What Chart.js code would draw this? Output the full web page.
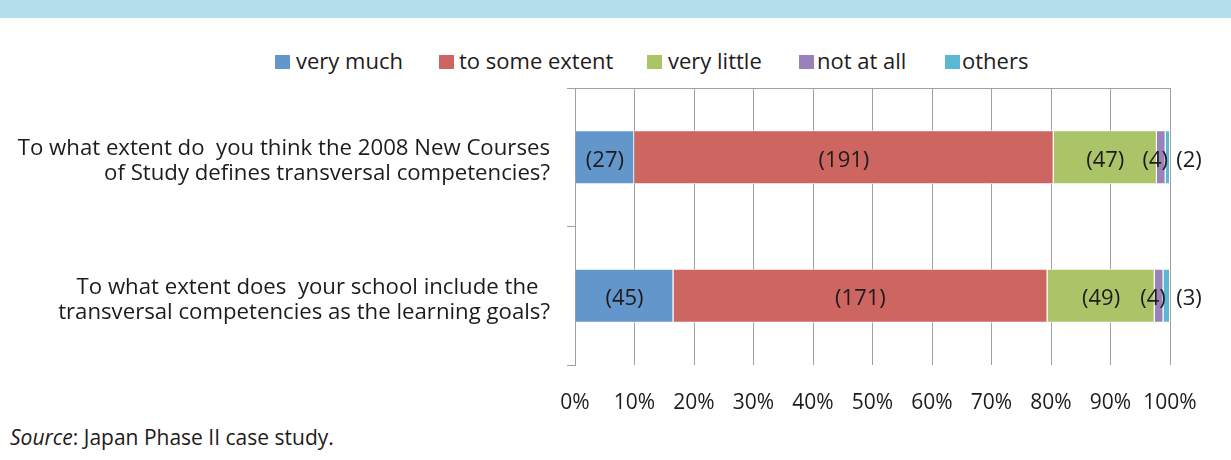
<!DOCTYPE html>
<html>
<head>
<meta charset="utf-8">
<script src="https://cdn.jsdelivr.net/npm/chart.js@4"></script>
<style>
  body { margin: 0; width: 1231px; height: 460px; overflow: hidden; position: relative; background: #fff;
         font-family: 'Open Sans', sans-serif; color: #1e1b1c; }
  #band { position: absolute; left: 0; top: 0; width: 1231px; height: 18px; background: #b3dfec; }
  #chartBox { position: absolute; left: 0; top: 0; }
  #legend { position: absolute; left: 0; top: 47px; width: 1231px; height: 30px; }
  .lg-box { position: absolute; top: 8px; width: 15px; height: 14px; }
  .lg-text { position: absolute; top: -1px; font-size: 22px; line-height: 28px; white-space: nowrap; }
  #source { position: absolute; left: 10px; top: 423px; font-size: 21px; line-height: 28px; }
</style>
</head>
<body>
<div id="band"></div>
<div id="legend"></div>
<div id="chartBox"><canvas id="chart" width="1231" height="420"></canvas></div>
<div id="source"><i>Source</i>: Japan Phase II case study.</div>
<script>
// questions (y categories)
const categories = [
  ['To what extent do  you think the 2008 New Courses', 'of Study defines transversal competencies?'],
  ['To what extent does  your school include the  ', 'transversal competencies as the learning goals?']
];
const seriesNames = ['very much', 'to some extent', 'very little', 'not at all', 'others'];

// number of respondents per answer
const veryMuch     = [27, 45];
const toSomeExtent = [191, 171];
const veryLittle   = [47, 49];
const notAtAll     = [4, 4];
const others       = [2, 3];

const xTickValues = [0, 10, 20, 30, 40, 50, 60, 70, 80, 90, 100];

const counts = [veryMuch, toSomeExtent, veryLittle, notAtAll, others];
const colors = ['#6397cb', '#cd6560', '#abc468', '#9a82b8', '#5bb8d2'];

// legend placement (px)
const legendBoxX = [275, 439, 647, 799, 945];
const legendTextX = [296, 459, 668, 817, 962];
// label nudges per series
const labelShift = [0, 0, 0, -6, 0];

const totals = categories.map((_, j) => counts.reduce((s, arr) => s + arr[j], 0));
const FONT = "'Open Sans', sans-serif";
const TXT = '#1e1b1c';
const GRID = '#a0a0a0';

// html legend
const legendEl = document.getElementById('legend');
seriesNames.forEach((name, i) => {
  const b = document.createElement('div');
  b.className = 'lg-box';
  b.style.left = legendBoxX[i] + 'px';
  b.style.background = colors[i];
  legendEl.appendChild(b);
  const t = document.createElement('div');
  t.className = 'lg-text';
  t.style.left = legendTextX[i] + 'px';
  t.textContent = name;
  legendEl.appendChild(t);
});

const countLabels = {
  id: 'countLabels',
  afterDatasetsDraw(chart) {
    const ctx = chart.ctx;
    ctx.save();
    ctx.font = '22px ' + FONT;
    ctx.fillStyle = TXT;
    ctx.textAlign = 'center';
    ctx.textBaseline = 'middle';
    chart.data.datasets.forEach((ds, i) => {
      chart.getDatasetMeta(i).data.forEach((bar, j) => {
        let x = (bar.x + bar.base) / 2 + labelShift[i];
        if (i === counts.length - 1) x = chart.chartArea.right + 19;
        ctx.fillText('(' + counts[i][j] + ')', x, bar.y + 3);
      });
    });
    ctx.restore();
  }
};

new Chart(document.getElementById('chart'), {
  type: 'bar',
  data: {
    labels: categories,
    datasets: seriesNames.map((name, i) => ({
      label: name,
      data: counts[i].map((v, j) => v / totals[j] * 100),
      backgroundColor: colors[i],
      borderColor: '#ffffff',
      borderWidth: 1,
      barPercentage: 0.39,
      categoryPercentage: 1
    }))
  },
  options: {
    indexAxis: 'y',
    responsive: false,
    animation: false,
    devicePixelRatio: 1,
    layout: { padding: { top: 88, right: 61, left: 0, bottom: 0 } },
    plugins: { legend: { display: false }, tooltip: { enabled: false } },
    scales: {
      x: {
        stacked: true,
        min: 0, max: 100,
        afterBuildTicks: s => { s.ticks = xTickValues.map(v => ({ value: v })); },
        afterFit: s => { s.height = 55; },
        grid: { color: GRID, lineWidth: 1, drawTicks: false },
        border: { display: false },
        ticks: { padding: 25, color: TXT, font: { family: FONT, size: 21 }, callback: v => v + '%' }
      },
      x2: {
        position: 'top',
        min: 0, max: 100,
        afterFit: s => { s.height = 0; },
        grid: { display: false, drawTicks: false },
        ticks: { display: false },
        border: { display: true, color: GRID, width: 1 }
      },
      y: {
        stacked: true,
        afterFit: s => { s.width = 575; },
        grid: { drawOnChartArea: false, drawTicks: true, tickLength: 8, color: GRID, offset: true },
        border: { display: true, color: GRID, width: 1 },
        ticks: { padding: 17, labelOffset: 4, color: TXT, font: { family: FONT, size: 22.2, lineHeight: 1.13 } }
      }
    }
  },
  plugins: [countLabels]
});
</script>
</body>
</html>
